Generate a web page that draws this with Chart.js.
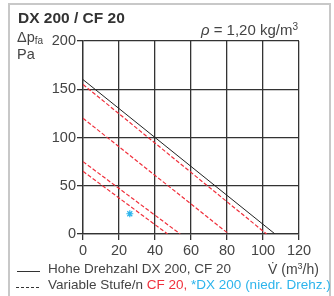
<!DOCTYPE html>
<html>
<head>
<meta charset="utf-8">
<script src="https://cdn.jsdelivr.net/npm/chart.js@4"></script>
<style>
  body { margin: 0; background: #fff; font-family: "Liberation Sans", Arial, sans-serif; color: #444; }
  #wrap { position: relative; width: 334px; height: 296px; overflow: hidden; }
  #frame { position: absolute; left: 8px; top: 3px; width: 323px; height: 300px; border: 2px solid #c8c8c8; box-sizing: border-box; }
  #chartBox { position: absolute; left: 0; top: 0; width: 334px; height: 296px; }
  .txt { position: absolute; white-space: nowrap; line-height: 1; }
  .red { color: #f0303c; }
  .cyan { color: #2cb4ec; }
  .sample { position: absolute; width: 23px; height: 0; }
</style>
</head>
<body>
<div id="wrap">
  <div id="frame"></div>
  <div id="chartBox"><canvas id="fanChart"></canvas></div>
  <div class="txt" id="title" style="left:18px; top:10px; font-size:15.5px; font-weight:bold; color:#333;">DX 200 / CF 20</div>
  <div class="txt" id="density" style="right:36px; top:22px; font-size:15px;"><i>ρ</i> = 1,20 kg/m<sup style="font-size:10px; vertical-align:5px;">3</sup></div>
  <div class="txt" style="left:17px; top:30px; font-size:14.5px;">Δp<sub style="font-size:10px; vertical-align:-2px;">fa</sub></div>
  <div class="txt" style="left:17px; top:47px; font-size:14.5px;">Pa</div>
  <div class="txt" style="left:268px; top:262px; font-size:14px;">V̇ (m<sup style="font-size:9px; vertical-align:5px;">3</sup>/h)</div>
  <div class="sample" style="left:17px; top:271px; border-top:1px solid #333;"></div>
  <div class="txt" style="left:48px; top:262px; font-size:13.5px;">Hohe Drehzahl DX 200, CF 20</div>
  <div class="sample" style="left:16px; top:287px; border-top:1px dashed #333;"></div>
  <div class="txt" style="left:48px; top:278px; font-size:13.5px;">Variable Stufe/n <span class="red">CF 20,</span> <span class="cyan">*DX 200 (niedr. Drehz.)</span></div>
</div>
<script>
// flow in m3/h, pressure in Pa
const xTicks = [0, 20, 40, 60, 80, 100, 120];
const yTicks = [0, 50, 100, 150, 200];

const dxHighFlow = [0, 106.7];
const dxHighPressure = [160, 0];

// CF 20 variable steps: pressure at zero flow and free-blowing flow
const cfStartPressure = [155, 120, 75, 65];
const cfEndFlow = [102, 81, 54, 47];

const dxLowFlow = [26];
const dxLowPressure = [21];

const red = '#f0303c';
const cyan = '#2cb4ec';

const datasets = [];
datasets.push({
    data: dxHighFlow.map(function (x, i) { return { x: x, y: dxHighPressure[i] }; }),
    showLine: true,
    borderColor: '#222',
    borderWidth: 1,
    pointRadius: 0
});
cfStartPressure.forEach(function (p, i) {
    datasets.push({
        data: [{ x: 0, y: p }, { x: cfEndFlow[i], y: 0 }],
        showLine: true,
        borderColor: red,
        borderWidth: 1.2,
        borderDash: [4, 2],
        pointRadius: 0
    });
});
datasets.push({
    data: dxLowFlow.map(function (x, i) { return { x: x, y: dxLowPressure[i] }; }),
    pointStyle: 'star',
    pointRadius: 3.5,
    borderColor: cyan,
    borderWidth: 1.2
});

const gridColor = '#333';
const tickFont = { family: 'Liberation Sans', size: 14.5 };

new Chart(document.querySelector('#fanChart'), {
    type: 'scatter',
    data: { datasets: datasets },
    options: {
        responsive: true,
        maintainAspectRatio: false,
        animation: false,
        layout: { padding: { top: 41, right: 35, left: 0, bottom: 0 } },
        plugins: { legend: { display: false }, tooltip: { enabled: false } },
        scales: {
            x: {
                min: 0, max: 120,
                afterBuildTicks: function (scale) { scale.ticks = xTicks.map(function (v) { return { value: v }; }); },
                afterFit: function (scale) { scale.height = 62; },
                ticks: { color: '#444', font: tickFont, padding: 2, maxRotation: 0 },
                grid: { color: gridColor, lineWidth: 1.3, tickLength: 6 },
                border: { color: gridColor, width: 1.3 }
            },
            y: {
                min: 0, max: 200,
                afterBuildTicks: function (scale) { scale.ticks = yTicks.map(function (v) { return { value: v }; }); },
                afterFit: function (scale) { scale.width = 83; },
                ticks: { color: '#444', font: tickFont, padding: 1 },
                grid: { color: gridColor, lineWidth: 1.3, tickLength: 6 },
                border: { color: gridColor, width: 1.3 }
            }
        }
    }
});
</script>
</body>
</html>
